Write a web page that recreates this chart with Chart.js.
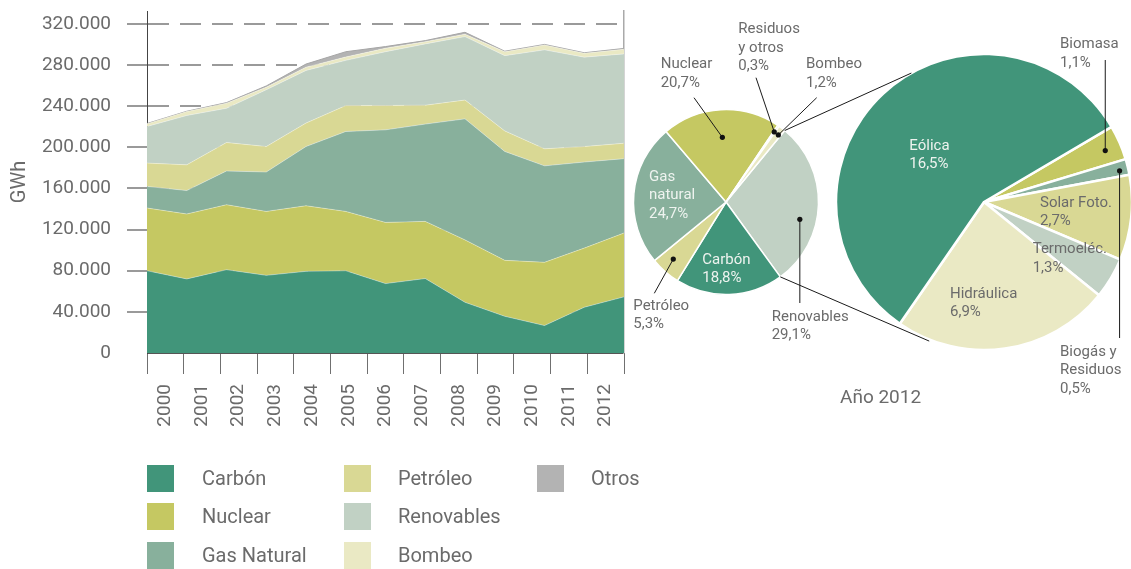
<!DOCTYPE html>
<html>
<head>
<meta charset="utf-8">
<script src="https://cdn.jsdelivr.net/npm/chart.js@4.4.1/dist/chart.umd.min.js"></script>
<style>
html,body{margin:0;padding:0;background:#fff;overflow:hidden;}
body{width:1131px;height:569px;position:relative;font-family:Roboto,"Noto Sans",sans-serif;color:#6b6b6b;}
canvas{position:absolute;}
.lbl{position:absolute;font-size:15px;line-height:18.6px;white-space:pre;color:#6b6b6b;}
.lbl.w{color:#eef3ef;}
.sw{position:absolute;width:27px;height:27px;}
.lt{position:absolute;font-size:20px;line-height:27px;white-space:pre;color:#6b6b6b;}
#year{position:absolute;font-size:19px;line-height:22px;color:#6b6b6b;}
</style>
</head>
<body>
<canvas id="area" width="640" height="440" style="left:0;top:0"></canvas>
<canvas id="pie1" width="210" height="210" style="left:621px;top:97px"></canvas>
<canvas id="pie2" width="300" height="300" style="left:834px;top:52px"></canvas>
<canvas id="overlay" width="1131" height="569" style="left:0;top:0"></canvas>
<div id="labels"></div>
<script>
// ---------- data ----------
const years = ['2000','2001','2002','2003','2004','2005','2006','2007','2008','2009','2010','2011','2012'];
const yTickValues = [0, 40000, 80000, 120000, 160000, 200000, 240000, 280000, 320000];

const seriesNames = ['Carbón','Nuclear','Gas Natural','Petróleo','Renovables','Bombeo','Otros'];
const carbon     = [80000,72000,81000,75500,79400,80000,67500,72400,49300,35700,26700,44500,54600];
const nuclear    = [61000,63200,63200,62200,63800,57700,59500,55600,60700,54400,61500,57500,62100];
const gasNatural = [21000,22800,32800,38300,57600,77700,90000,94600,117700,105900,93800,83700,72300];
const petroleo   = [22700,25000,27700,24800,22800,25200,23700,18400,18300,20000,16600,15100,15000];
const renovables = [35600,48000,33300,55200,51200,44000,52300,59600,61700,73200,96200,86900,86900];
const bombeo     = [2600,3800,5000,2500,3200,3300,3400,2200,2300,3800,4800,3800,4500];
const otros      = [300,300,500,1200,3000,5100,1600,1000,1900,500,500,500,800];

// Pie 1: generación 2012 (%)
const pie1Names  = ['Renovables','Carbón','Petróleo','Gas natural','Nuclear','Residuos y otros','Bombeo'];
const pie1Lines  = ['Renovables','Carbón','Petróleo','Gas\nnatural','Nuclear','Residuos\ny otros','Bombeo'];
const pie1Values = [29.1, 18.8, 5.3, 24.7, 20.7, 0.3, 1.2];

// Pie 2: desglose renovables 2012 (%)
const pie2Names  = ['Biomasa','Biogás y Residuos','Solar Foto.','Termoeléc.','Hidráulica','Eólica'];
const pie2Lines  = ['Biomasa','Biogás y\nResiduos','Solar Foto.','Termoeléc.','Hidráulica','Eólica'];
const pie2Values = [1.1, 0.5, 2.7, 1.3, 6.9, 16.5];

const pieTitle = 'Año 2012';

// ---------- styles ----------
const C = {carbon:'#41957a', nuclear:'#c5c862', gas:'#88b09c', petro:'#d9d894', renov:'#c1d1c4', bomb:'#eae9c4', otros:'#b3b3b3', resid:'#e2e1b4'};
const seriesColors = [C.carbon, C.nuclear, C.gas, C.petro, C.renov, C.bomb, C.otros];
const pie1Colors = [C.renov, C.carbon, C.petro, C.gas, C.nuclear, C.resid, C.bomb];
const pie2Colors = [C.nuclear, C.gas, C.petro, C.renov, C.bomb, C.carbon];
const TXT = '#6b6b6b';
const FONT = 'Roboto';

function fmtThousands(v){ return String(v).replace(/\B(?=(\d{3})+(?!\d))/g, '.'); }
function fmtPct(v){ return v.toFixed(1).replace('.', ',') + '%'; }

// ---------- area chart ----------
const seriesData = [carbon, nuclear, gasNatural, petroleo, renovables, bombeo, otros];
const areaChart = new Chart(document.getElementById('area'), {
  type: 'line',
  data: {
    labels: years,
    datasets: seriesData.map((d, i) => ({
      label: seriesNames[i],
      data: d,
      backgroundColor: seriesColors[i],
      borderColor: i === 6 ? '#a6a6a6' : 'rgba(255,255,255,0.35)',
      borderWidth: 1,
      pointRadius: 0,
      tension: 0,
      fill: i === 0 ? 'origin' : '-1',
      xAxisID: 'x',
      yAxisID: 'y'
    }))
  },
  options: {
    responsive: false,
    animation: false,
    events: [],
    layout: {padding: {top: 11, right: 16, left: 0, bottom: 0}},
    plugins: {legend: {display: false}, tooltip: {enabled: false}},
    scales: {
      x: {type: 'category', display: false, offset: false},
      x2: {
        type: 'category', labels: years, position: 'bottom', offset: true,
        grid: {offset: true, drawOnChartArea: false, drawTicks: true, tickLength: 21, color: '#707070', lineWidth: 1},
        border: {display: true, color: '#555', width: 1},
        ticks: {minRotation: 90, maxRotation: 90, autoSkip: false, padding: 10, color: TXT, font: {family: FONT, size: 19}},
        afterFit: s => { s.height = 87; s.paddingLeft = 0; s.paddingRight = 0; }
      },
      y: {
        stacked: true, min: 0, max: 332600, position: 'left',
        afterBuildTicks: s => { s.ticks = yTickValues.map(v => ({value: v})); },
        afterFit: s => { s.width = 147; s.paddingTop = 0; s.paddingBottom = 0; },
        grid: {
          color: c => (c.tick && c.tick.value === 0) ? 'rgba(0,0,0,0)' : '#9a9a9a',
          lineWidth: 2, tickLength: 20, drawTicks: true
        },
        border: {display: true, color: '#444', width: 1, dash: [21, 11]},
        ticks: {padding: 16, color: TXT, font: {family: FONT, size: 19}, callback: v => fmtThousands(v)},
        title: {display: true, text: 'GWh', color: TXT, font: {family: FONT, size: 20}, padding: {top: 8, bottom: 0}}
      },
      y2: {
        position: 'right', display: true,
        grid: {display: false}, ticks: {display: false},
        border: {display: true, color: '#aaa', width: 1.5},
        afterFit: s => { s.width = 0; s.paddingTop = 0; s.paddingBottom = 0; }
      }
    }
  }
});

// ---------- pies ----------
function makePie(id, names, values, colors, rotation, radius, bw){
  return new Chart(document.getElementById(id), {
    type: 'pie',
    data: {labels: names, datasets: [{data: values, backgroundColor: colors, borderColor: '#fff', borderWidth: bw}]},
    options: {
      responsive: false, animation: false, events: [],
      rotation: rotation, radius: radius,
      layout: {padding: 0},
      plugins: {legend: {display: false}, tooltip: {enabled: false}}
    }
  });
}
const pie1 = makePie('pie1', pie1Names, pie1Values, pie1Colors, 39.4, 92.5, 1.5);
const pie2 = makePie('pie2', pie2Names, pie2Values, pie2Colors, 59.5, 148, 2.5);
const off1 = [621, 97], off2 = [834, 52];

// ---------- overlay: connectors & leader lines ----------
function slicePt(chart, off, i, frac, rf){
  const a = chart.getDatasetMeta(0).data[i];
  const ang = a.startAngle + (a.endAngle - a.startAngle) * frac;
  const r = a.outerRadius * rf;
  return [off[0] + a.x + r * Math.cos(ang), off[1] + a.y + r * Math.sin(ang)];
}
function anglePt(chart, off, deg, rf){
  const a = chart.getDatasetMeta(0).data[0];
  const rad = (deg - 90) * Math.PI / 180;
  const r = a.outerRadius * rf;
  return [off[0] + a.x + r * Math.cos(rad), off[1] + a.y + r * Math.sin(rad)];
}
const oc = document.getElementById('overlay').getContext('2d');
oc.strokeStyle = '#1a1a1a'; oc.fillStyle = '#111'; oc.lineWidth = 1;
function line(p, q){ oc.beginPath(); oc.moveTo(p[0], p[1]); oc.lineTo(q[0], q[1]); oc.stroke(); }
function dot(p){ oc.beginPath(); oc.arc(p[0], p[1], 2.6, 0, Math.PI * 2); oc.fill(); }

// connectors from the Renovables slice to the breakdown pie
line(slicePt(pie1, off1, 0, 0, 1), anglePt(pie2, off2, 330.6, 1));
line(slicePt(pie1, off1, 0, 1, 1), anglePt(pie2, off2, 201.5, 1.01));

// leaders pie 1: [index, fraction along slice, radius fraction, end point]
const leaders1 = [
  [4, 0.5, 0.70, [694, 97.7]],
  [5, 0.5, 0.92, [756, 77.7]],
  [6, 0.67, 0.92, [816.7, 97.7]],
  [2, 0.58, 0.84, [654.3, 293.3]],
  [0, 0.61, 0.82, [null, 303]]
];
leaders1.forEach(([i, f, rf, e]) => {
  const p = slicePt(pie1, off1, i, f, rf);
  const q = [e[0] === null ? p[0] : e[0], e[1]];
  line(p, q); dot(p);
});
const leaders2 = [
  [0, 0.55, 0.89, [null, 60]],
  [1, 0.63, 0.94, [null, 338]]
];
leaders2.forEach(([i, f, rf, e]) => {
  const p = slicePt(pie2, off2, i, f, rf);
  const q = [e[0] === null ? p[0] : e[0], e[1]];
  line(p, q); dot(p);
});

// ---------- text labels ----------
const labelsDiv = document.getElementById('labels');
function addLabel(text, left, top, white){
  const d = document.createElement('div');
  d.className = 'lbl' + (white ? ' w' : '');
  d.style.left = left + 'px'; d.style.top = top + 'px';
  d.textContent = text;
  labelsDiv.appendChild(d);
}
const pie1Pos = [[771.7, 306.7, 0], [702.3, 249.7, 1], [633.3, 295.7, 0], [649, 166.5, 1], [660.7, 54, 0], [738.3, 19, 0], [806, 54, 0]];
pie1Values.forEach((v, i) => addLabel(pie1Lines[i] + '\n' + fmtPct(v), pie1Pos[i][0], pie1Pos[i][1], pie1Pos[i][2]));
const pie2Pos = [[1060, 34, 0], [1060, 341.5, 0], [1040, 192.5, 0], [1032.7, 239, 0], [950, 283.5, 0], [909.3, 135.7, 1]];
pie2Values.forEach((v, i) => addLabel(pie2Lines[i] + '\n' + fmtPct(v), pie2Pos[i][0], pie2Pos[i][1], pie2Pos[i][2]));

const yr = document.createElement('div');
yr.id = 'year'; yr.textContent = pieTitle;
yr.style.left = '840px'; yr.style.top = '385.7px';
labelsDiv.appendChild(yr);

// ---------- legend ----------
const legCols = [[147, 202], [344, 398], [537, 591]];
seriesNames.forEach((n, i) => {
  const col = Math.floor(i / 3), row = i % 3;
  const top = 465 + row * 38.3;
  const sw = document.createElement('div');
  sw.className = 'sw'; sw.style.left = legCols[col][0] + 'px'; sw.style.top = top + 'px';
  sw.style.background = seriesColors[i];
  labelsDiv.appendChild(sw);
  const t = document.createElement('div');
  t.className = 'lt'; t.style.left = legCols[col][1] + 'px'; t.style.top = top + 'px';
  t.textContent = n;
  labelsDiv.appendChild(t);
});
</script>
</body>
</html>
